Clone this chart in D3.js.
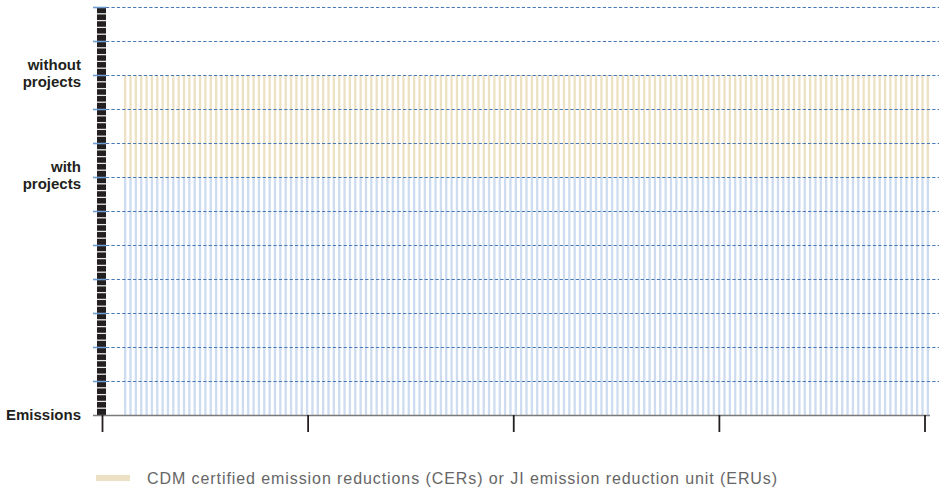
<!DOCTYPE html>
<html>
<head>
<meta charset="utf-8">
<script src="https://cdn.jsdelivr.net/npm/d3@7"></script>
<style>
  html, body { margin: 0; padding: 0; background: #fff; }
  svg { display: block; }
</style>
</head>
<body>
<svg id="chart" width="939" height="488"></svg>
<script>
// ---- data ----
const periods = [1,2,3,4,5,6,7,8,9,10,11,12,13,14,15,16,17,18,19,20,21,22,23,24,25,26,27,28,29,30,
31,32,33,34,35,36,37,38,39,40,41,42,43,44,45,46,47,48,49,50,51,52,53,54,55,56,57,58,59,60,
61,62,63,64,65,66,67,68,69,70,71,72,73,74,75,76,77,78,79,80,81,82,83,84,85,86,87,88,89,90,
91,92,93,94,95,96,97,98,99,100,101,102,103,104,105,106,107,108,109,110,111,112,113,114,115,116,117,118,119,120,
121,122,123,124,125,126,127,128,129,130,131,132,133,134,135,136,137,138,139,140,141,142,143,144,145,146,147,148,149,150,151];
const withProjects = [7,7,7,7,7,7,7,7,7,7,7,7,7,7,7,7,7,7,7,7,7,7,7,7,7,7,7,7,7,7,
7,7,7,7,7,7,7,7,7,7,7,7,7,7,7,7,7,7,7,7,7,7,7,7,7,7,7,7,7,7,
7,7,7,7,7,7,7,7,7,7,7,7,7,7,7,7,7,7,7,7,7,7,7,7,7,7,7,7,7,7,
7,7,7,7,7,7,7,7,7,7,7,7,7,7,7,7,7,7,7,7,7,7,7,7,7,7,7,7,7,7,
7,7,7,7,7,7,7,7,7,7,7,7,7,7,7,7,7,7,7,7,7,7,7,7,7,7,7,7,7,7,7];
const reductions = [3,3,3,3,3,3,3,3,3,3,3,3,3,3,3,3,3,3,3,3,3,3,3,3,3,3,3,3,3,3,
3,3,3,3,3,3,3,3,3,3,3,3,3,3,3,3,3,3,3,3,3,3,3,3,3,3,3,3,3,3,
3,3,3,3,3,3,3,3,3,3,3,3,3,3,3,3,3,3,3,3,3,3,3,3,3,3,3,3,3,3,
3,3,3,3,3,3,3,3,3,3,3,3,3,3,3,3,3,3,3,3,3,3,3,3,3,3,3,3,3,3,
3,3,3,3,3,3,3,3,3,3,3,3,3,3,3,3,3,3,3,3,3,3,3,3,3,3,3,3,3,3,3];
const yMax = 12;
const yLabelValues = [0, 7, 10];
const yLabelLines = [["Emissions"], ["with", "projects"], ["without", "projects"]];
const xTicks = [0, 1, 2, 3, 4];
const legendLabel = "CDM certified emission reductions (CERs) or JI emission reduction unit (ERUs)";

// ---- scales ----
const svg = d3.select("#chart");
const y = d3.scaleLinear().domain([0, yMax]).range([415, 7]);
const xBand = d3.scaleBand().domain(periods).range([124, 929]).paddingInner(0.57).paddingOuter(0);
const xAxisScale = d3.scaleLinear().domain([0, 4]).range([102, 924.5]);

const blue = "#cddcf0", tan = "#ede1c3";

// bars
const g = svg.append("g");
g.selectAll("rect.base").data(periods).join("rect")
  .attr("class", "base")
  .attr("x", d => xBand(d))
  .attr("width", xBand.bandwidth())
  .attr("y", (d, i) => y(withProjects[i]))
  .attr("height", (d, i) => y(0) - y(withProjects[i]))
  .attr("fill", blue);
g.selectAll("rect.red").data(periods).join("rect")
  .attr("class", "red")
  .attr("x", d => xBand(d))
  .attr("width", xBand.bandwidth())
  .attr("y", (d, i) => y(withProjects[i] + reductions[i]))
  .attr("height", (d, i) => y(withProjects[i]) - y(withProjects[i] + reductions[i]))
  .attr("fill", tan);

// black y-axis bar with white minor stripes
svg.append("rect").attr("x", 97).attr("y", y(yMax)).attr("width", 9)
  .attr("height", y(0) - y(yMax)).attr("fill", "#231f20");
const minor = d3.range(0, yMax * 5).map(k => k / 5).filter(v => Math.abs(v - Math.round(v)) > 1e-6);
svg.append("g").selectAll("line").data(minor).join("line")
  .attr("x1", 97).attr("x2", 106)
  .attr("y1", d => y(d)).attr("y2", d => y(d))
  .attr("stroke", "#e6e6e6").attr("stroke-width", 1.3);

// gridlines
const gridVals = y.ticks(12).filter(v => v > 0);
const grid = svg.append("g");
grid.selectAll("line.dash").data(gridVals).join("line")
  .attr("class", "dash")
  .attr("x1", 106).attr("x2", 939)
  .attr("y1", d => y(d) + 0.5).attr("y2", d => y(d) + 0.5)
  .attr("stroke", "#4a7ab6").attr("stroke-width", 1).attr("stroke-dasharray", "3.3,2.1");
grid.selectAll("line.solid").data(gridVals).join("line")
  .attr("class", "solid")
  .attr("x1", 93).attr("x2", 106)
  .attr("y1", d => y(d) + 0.5).attr("y2", d => y(d) + 0.5)
  .attr("stroke", "#6f9ccf").attr("stroke-width", 1.6);

// x axis
svg.append("line").attr("x1", 93).attr("x2", 930).attr("y1", 415.5).attr("y2", 415.5)
  .attr("stroke", "#7a7a7a").attr("stroke-width", 1.6);
const xAxis = d3.axisBottom(xAxisScale).tickValues(xTicks).tickFormat("").tickSize(17).tickSizeOuter(0);
const xg = svg.append("g").attr("transform", "translate(0,415)").call(xAxis);
xg.select(".domain").remove();
xg.selectAll(".tick line").attr("stroke", "#231f20").attr("stroke-width", 1.8);

// y labels
const lab = svg.append("g").attr("font-family", "'Liberation Sans', Arial, Helvetica, sans-serif")
  .attr("font-weight", "bold").attr("font-size", 15).attr("fill", "#231f20").attr("text-anchor", "end");
yLabelValues.forEach((v, i) => {
  const lines = yLabelLines[i];
  const t = lab.append("text").attr("x", 81);
  if (lines.length === 1) {
    t.attr("y", y(v) + 4.5).text(lines[0]);
  } else {
    lines.forEach((ln, j) => {
      t.append("tspan").attr("x", 81).attr("y", y(v) - 5 + j * 16.5).text(ln);
    });
  }
});

// legend
svg.append("rect").attr("x", 96).attr("y", 475).attr("width", 34).attr("height", 6).attr("fill", tan);
svg.append("text").attr("x", 147).attr("y", 484)
  .attr("font-family", "'Liberation Sans', Arial, Helvetica, sans-serif")
  .attr("font-size", 16).attr("letter-spacing", 0.92).attr("fill", "#666").text(legendLabel);
</script>
</body>
</html>
